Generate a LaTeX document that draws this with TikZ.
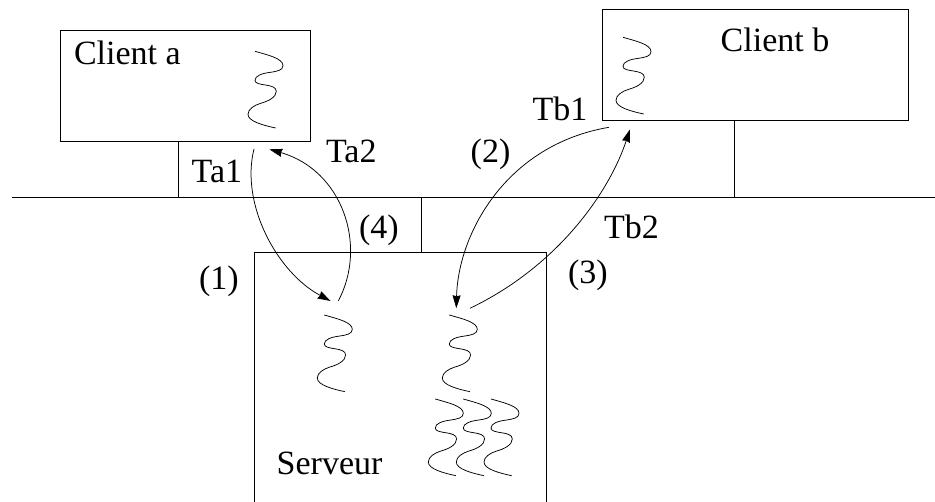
\documentclass[tikz,border=0pt]{standalone}
\usepackage{fontspec}
\setmainfont{Liberation Serif}
\usetikzlibrary{arrows.meta}
\tikzset{
  lbl/.style={anchor=base west,inner sep=0pt,outer sep=0pt,font=\fontsize{34}{38}\selectfont},
  boxshape/.style={draw,line width=.75pt,anchor=north west,inner sep=0pt,outer sep=0pt},
  wire/.style={line width=.75pt},
  flow/.style={line width=.75pt,-{Stealth[length=13pt,width=8pt,inset=1pt]}},
  threadpath/.pic={\draw[line width=.75pt] (0,0) .. controls (12,3.5) and (28,7) .. (28,14.3)
     .. controls (28,19) and (22,20) .. (15.7,21) .. controls (7,22) and (0,24.5) .. (0,29)
     .. controls (0,35.5) and (21.3,31.5) .. (21.3,40) .. controls (21.3,46) and (13,50) .. (5.7,52)
     .. controls (-1,54) and (-7,58) .. (-7,63) .. controls (-7,70) and (8,74) .. (20.7,76.7);}
}
\begin{document}
\begin{tikzpicture}[x=1pt,y=-1pt]
\useasboundingbox (0,0) rectangle (935,502);
% boxes
\node[boxshape,minimum width=250.3pt,minimum height=111.4pt] (clienta) at (60,30.3) {};
\node[boxshape,minimum width=305.7pt,minimum height=111pt] (clientb) at (602.3,9.3) {};
\coordinate (srvTL) at (254.7,252.7);
\coordinate (srvTR) at (546.3,252.7);
\coordinate (srvBL) at (254.7,502);
\coordinate (srvBR) at (546.3,502);
\draw[wire] (srvBL) -- (srvTL) -- (srvTR) -- (srvBR);
% bus
\coordinate (busL) at (12,197);
\coordinate (busR) at (935,197);
\coordinate (busA) at (178.3,197);
\coordinate (busB) at (734.3,197);
\coordinate (busS) at (421.3,197);
\coordinate (stubA) at (178.3,141.7);
\coordinate (stubB) at (734.3,120.3);
\coordinate (stubS) at (421.3,252.7);
\draw[wire] (busL) -- (busR);
\draw[wire] (stubA) -- (busA);
\draw[wire] (stubB) -- (busB);
\draw[wire] (stubS) -- (busS);
% threads
\pic at (255,51.3) {threadpath};
\pic at (623,37.3) {threadpath};
\pic at (324.3,315) {threadpath};
\pic at (449.3,315) {threadpath};
\pic at (435.3,399) {threadpath};
\pic at (463.3,399) {threadpath};
\pic at (491,399) {threadpath};
% arrows
\coordinate (a1s) at (254,149);
\coordinate (a1e) at (330.7,301);
\coordinate (a2s) at (338.3,301);
\coordinate (a2e) at (269.3,149.3);
\coordinate (b1s) at (609,127.3);
\coordinate (b1e) at (456.3,308.3);
\coordinate (b2s) at (470,308.3);
\coordinate (b2e) at (630,129.3);
\draw[flow] (a1s) .. controls (240,205) and (278,273) .. (a1e);
\draw[flow] (a2s) .. controls (368,245) and (342,170) .. (a2e);
\draw[flow] (b1s) .. controls (505,145) and (458,235) .. (b1e);
\draw[flow] (b2s) .. controls (560,265) and (610,190) .. (b2e);
% labels
\node[lbl] (tca) at (74,65) {Client a};
\node[lbl] (tcb) at (720.7,51.7) {Client b};
\node[lbl] (tsv) at (276.7,475) {Serveur};
\node[lbl] (ta1) at (191.7,182.7) {Ta1};
\node[lbl] (ta2) at (326,163) {Ta2};
\node[lbl] (tb1) at (532.7,121) {Tb1};
\node[lbl] (tb2) at (604,238.7) {Tb2};
\node[lbl] (n1) at (199,290) {(1)};
\node[lbl] (n2) at (470.7,162.7) {(2)};
\node[lbl] (n3) at (568,284) {(3)};
\node[lbl] (n4) at (359,239) {(4)};
\end{tikzpicture}
\end{document}
